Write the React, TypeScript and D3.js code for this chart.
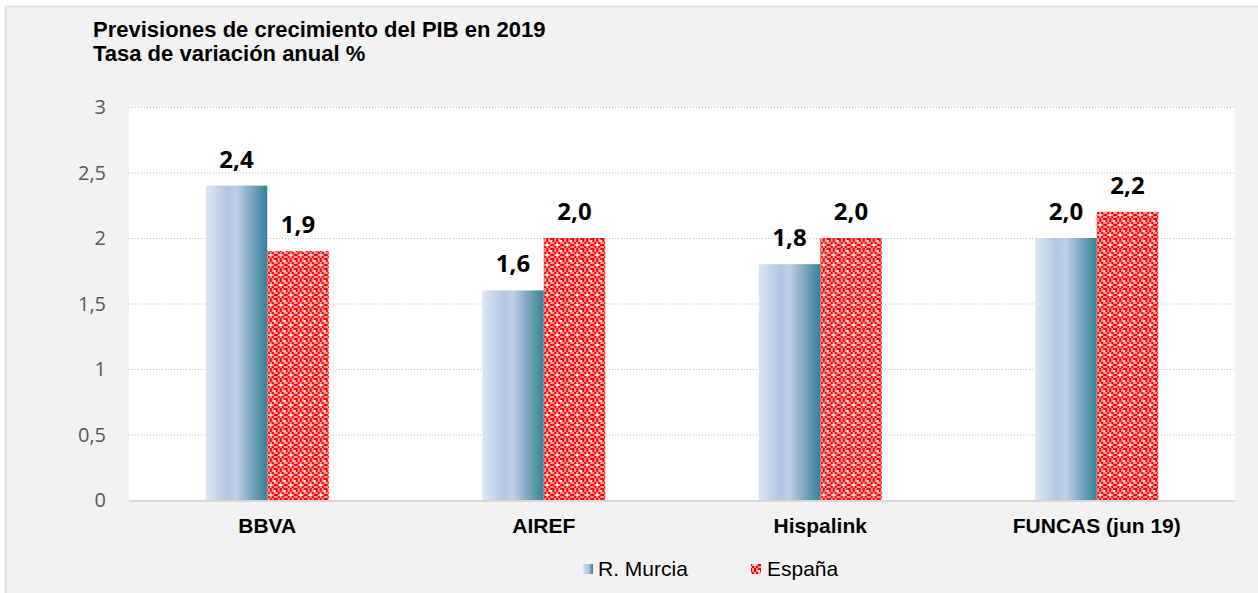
import * as d3 from 'd3';

const categories = ['BBVA', 'AIREF', 'Hispalink', 'FUNCAS (jun 19)'];
const seriesNames = ['R. Murcia', 'España'];
const murcia = [2.4, 1.6, 1.8, 2.0];
const espana = [1.9, 2.0, 2.0, 2.2];
const yTicks = [0, 0.5, 1, 1.5, 2, 2.5, 3];

const W = 1258;
const H = 593;
const margin = { top: 107, right: 23, bottom: 93, left: 129 };

const fmt = (v: number) => v.toFixed(1).replace('.', ',');
const fmtTick = (v: number) => String(v).replace('.', ',');

const arial = 'Liberation Sans, Arial, sans-serif';

export default function App(): JSX.Element {
  const x = d3.scaleBand<string>()
    .domain(categories)
    .range([margin.left, W - margin.right])
    .paddingInner(0.555)
    .paddingOuter(0.2775);

  const xs = d3.scaleBand<string>()
    .domain(seriesNames)
    .range([0, x.bandwidth()]);

  const y = d3.scaleLinear()
    .domain([0, 3])
    .range([H - margin.bottom, margin.top]);

  const fills = ['url(#murciaGrad)', 'url(#espPat)'];
  const values = [murcia, espana];

  // checker cells for the España pattern (10x10 tile, 2px cells)
  const cells: { x: number; y: number; c: string }[] = [];
  for (let r = 0; r < 5; r++) {
    for (let q = 0; q < 5; q++) {
      const red = (r + q) % 2 === 0;
      const hole = (r === 2 && q === 2) || (r === 0 && q === 4);
      cells.push({ x: q * 2, y: r * 2, c: hole ? '#ffffff' : red ? '#ff0000' : '#ff9a9a' });
    }
  }

  return (
    <div style={{ position: 'absolute', left: 0, top: 0 }}>
      <svg width={W} height={H} style={{ display: 'block' }}>
        <defs>
          <linearGradient id="murciaGrad" x1="0" x2="1" y1="0" y2="0">
            <stop offset="0%" stopColor="#dde7f3" />
            <stop offset="35%" stopColor="#b3c6e0" />
            <stop offset="50%" stopColor="#bfcfe6" />
            <stop offset="75%" stopColor="#7aa5bd" />
            <stop offset="100%" stopColor="#31849b" />
          </linearGradient>
          <pattern id="espPat" width="10" height="10" patternUnits="userSpaceOnUse">
            <rect width="10" height="10" fill="#ffffff" />
            {cells.map((d, i) => (
              <rect key={i} x={d.x} y={d.y} width={2} height={2} fill={d.c} />
            ))}
          </pattern>
        </defs>

        <rect x={0} y={0} width={W} height={H} fill="#ffffff" />
        <rect x={5.5} y={6.5} width={W + 10} height={H + 10} fill="#f2f2f2" stroke="#d9d9d9" strokeWidth={1.5} />

        <text x={93} y={37} fontFamily={arial} fontWeight="bold" fontSize={22} fill="#000">
          Previsiones de crecimiento del PIB en 2019
        </text>
        <text x={93} y={61} fontFamily={arial} fontWeight="bold" fontSize={22} fill="#000">
          Tasa de variación anual %
        </text>

        <rect
          x={margin.left}
          y={margin.top}
          width={W - margin.right - margin.left}
          height={H - margin.bottom - margin.top}
          fill="#ffffff"
        />

        {yTicks.map(t => (
          <g key={t}>
            {t > 0 && (
              <line
                x1={margin.left}
                x2={W - margin.right}
                y1={y(t) + 0.5}
                y2={y(t) + 0.5}
                stroke="#bfbfbf"
                strokeDasharray="1,2"
              />
            )}
            <text
              x={106}
              y={y(t)}
              dy="0.35em"
              textAnchor="end"
              fontFamily="Open Sans, sans-serif"
              fontSize={20}
              fill="#595959"
            >
              {fmtTick(t)}
            </text>
          </g>
        ))}

        {categories.map((c, i) => (
          <g key={c} transform={`translate(${x(c)},0)`}>
            {seriesNames.map((s, k) => {
              const v = values[k][i];
              return (
                <g key={s}>
                  <rect
                    x={xs(s)}
                    y={y(v)}
                    width={xs.bandwidth()}
                    height={y(0) - y(v)}
                    fill={fills[k]}
                  />
                  <text
                    x={(xs(s) ?? 0) + xs.bandwidth() / 2}
                    y={y(v) - 18}
                    textAnchor="middle"
                    fontFamily="Open Sans, sans-serif"
                    fontWeight="bold"
                    fontSize={24}
                    fill="#000"
                  >
                    {fmt(v)}
                  </text>
                </g>
              );
            })}
            <text
              x={x.bandwidth() / 2}
              y={533}
              textAnchor="middle"
              fontFamily={arial}
              fontWeight="bold"
              fontSize={21}
              fill="#000"
            >
              {c}
            </text>
          </g>
        ))}

        <line
          x1={margin.left}
          x2={W - margin.right}
          y1={y(0) + 1}
          y2={y(0) + 1}
          stroke="#d9d9d9"
          strokeWidth={2}
        />

        <g fontFamily={arial} fontSize={21} fill="#000">
          <rect x={583} y={564} width={10} height={10} fill="url(#murciaGrad)" />
          <text x={598} y={576}>{seriesNames[0]}</text>
          <rect x={751} y={564} width={10} height={10} fill="url(#espPat)" />
          <text x={767} y={576}>{seriesNames[1]}</text>
        </g>
      </svg>
    </div>
  );
}
